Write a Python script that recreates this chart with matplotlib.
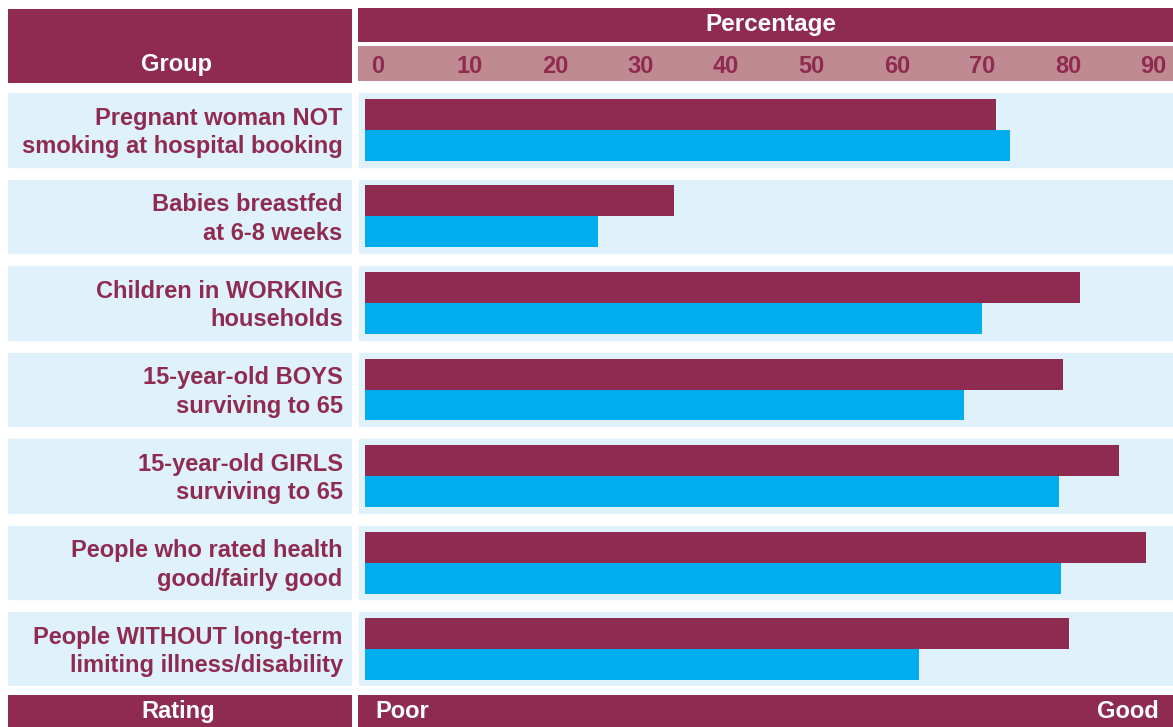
import matplotlib
matplotlib.use('Agg')
import matplotlib.pyplot as plt
from matplotlib.patches import Rectangle
import matplotlib.transforms as mtransforms

plt.rcParams['font.family'] = ['Liberation Sans', 'DejaVu Sans']
plt.rcParams['font.weight'] = 'bold'

# data
groups = [
    ('Pregnant woman NOT', 'smoking at hospital booking'),
    ('Babies breastfed', 'at 6-8 weeks'),
    ('Children in WORKING', 'households'),
    ('15-year-old BOYS', 'surviving to 65'),
    ('15-year-old GIRLS', 'surviving to 65'),
    ('People who rated health', 'good/fairly good'),
    ('People WITHOUT long-term', 'limiting illness/disability'),
]
local_pct = [73.8, 36.1, 83.6, 81.6, 88.2, 91.3, 82.3]
england_pct = [75.4, 27.3, 72.2, 70.1, 81.2, 81.4, 64.8]
tick_values = [0, 10, 20, 30, 40, 50, 60, 70, 80, 90]

MAROON = '#8f2b51'
BLUE = '#00adee'
PALE = '#dff1fb'
BAND = '#bf8a92'
FS = 17

W, H = 1173, 727
fig = plt.figure(figsize=(W / 100, H / 100), dpi=100)


def fx(x):
    return x / W


def fy(y):
    return 1 - y / H


def block(x0, y0, x1, y1, color):
    # zorder below the axes so the band labels stay visible
    fig.patches.append(Rectangle((fx(x0), fy(y1)), fx(x1) - fx(x0), fy(y0) - fy(y1),
                                 transform=fig.transFigure, facecolor=color,
                                 edgecolor='none', zorder=-1))


# header blocks
block(8, 8.5, 352, 83, MAROON)
block(358, 8, W, 42, MAROON)
block(358, 46, W, 81, BAND)
fig.text(fx(176.5), fy(71), 'Group', color='white', fontsize=FS, ha='center', va='baseline')
fig.text(fx(770.5), fy(31), 'Percentage', color='white', fontsize=FS + 0.5, ha='center',
         va='baseline')

# footer blocks
block(8, 695, 352, H, MAROON)
block(358, 695, W, H, MAROON)
fig.text(fx(178), fy(718), 'Rating', color='white', fontsize=FS, ha='center', va='baseline')
fig.text(fx(375), fy(718), 'Poor', color='white', fontsize=FS, ha='left', va='baseline')
fig.text(fx(1159), fy(718), 'Good', color='white', fontsize=FS, ha='right', va='baseline')

n = len(groups)
ylim = (n - 1 + 0.425, -0.425)
ax_bottom = fy(686)
ax_height = fy(93) - fy(686)

# left column with group names
axl = fig.add_axes([fx(8), ax_bottom, fx(352) - fx(8), ax_height])
axl.set_xlim(0, 1)
axl.set_ylim(*ylim)
axl.axis('off')

# right column with bars; 0 sits 6px right of the panel edge, 8.55px per unit
px_per_unit = 8.55
axr = fig.add_axes([fx(359), ax_bottom, fx(W) - fx(359), ax_height])
axr.set_xlim(-6 / px_per_unit, (W - 365) / px_per_unit)
axr.set_ylim(*ylim)
axr.axis('off')

for i, (line1, line2) in enumerate(groups):
    axl.axhspan(i - 0.425, i + 0.425, color=PALE, zorder=0)
    axr.axhspan(i - 0.425, i + 0.425, color=PALE, zorder=0)
    axl.text(0.973, i - 0.061, line1, color=MAROON, fontsize=FS, ha='right', va='baseline')
    axl.text(0.973, i + 0.268, line2, color=MAROON, fontsize=FS, ha='right', va='baseline')

pos = list(range(n))
bh = 0.358
axr.barh([p - 0.179 for p in pos], local_pct, height=bh, color=MAROON, zorder=2)
axr.barh([p + 0.179 for p in pos], england_pct, height=bh, color=BLUE, zorder=2)

# tick labels in the pink band, sharing the bar scale
band = fig.add_axes([fx(359), fy(81), fx(W) - fx(359), fy(46) - fy(81)])
band.set_xlim(axr.get_xlim())
band.set_ylim(0, 1)
band.axis('off')
off = mtransforms.offset_copy(band.transData, fig=fig, x=6, y=0, units='dots')
for v in tick_values:
    band.text(v, 0.23, str(v), color=MAROON, fontsize=FS, ha='left', va='baseline',
              transform=off)

fig.savefig('out.png', dpi=100)
